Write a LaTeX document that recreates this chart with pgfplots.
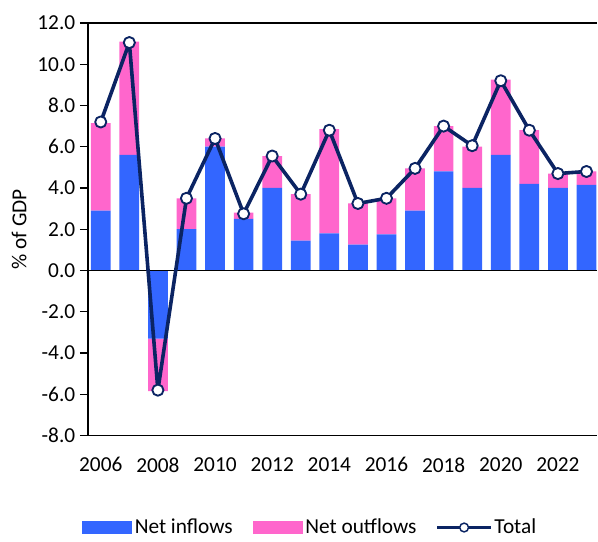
\documentclass[border=0pt]{standalone}
\usepackage{fontspec}
\setmainfont{Carlito}
\usepackage{pgfplots}
\pgfplotsset{compat=1.18}
\definecolor{inblue}{HTML}{3366FF}
\definecolor{outpink}{HTML}{FF66CC}
\definecolor{navy}{HTML}{0B2463}
\newcommand\cf{\fontsize{16}{19}\selectfont}

\pgfplotstableread{
year in out tot
2006 2.9 4.25 7.2
2007 5.6 5.5 11.05
2008 -3.3 -2.55 -5.8
2009 2.0 1.5 3.5
2010 6.0 0.4 6.4
2011 2.5 0.3 2.75
2012 4.0 1.55 5.55
2013 1.45 2.25 3.7
2014 1.8 5.05 6.8
2015 1.25 2.0 3.25
2016 1.75 1.75 3.5
2017 2.9 2.05 4.95
2018 4.8 2.2 7.0
2019 4.0 2.0 6.05
2020 5.6 3.65 9.2
2021 4.2 2.6 6.8
2022 4.0 0.7 4.7
2023 4.15 0.65 4.8
}\flows

\pgfplotsset{
  base/.style={
    width=382.5pt, height=309.75pt, scale only axis,
    xmin=2005.55, xmax=2023.38, ymin=-8, ymax=12,
  }
}

\begin{document}
\begin{tikzpicture}
\begin{axis}[
  base, name=ax,
  ybar stacked, bar width=0.69,
  axis lines*=left,
  axis line style={black, line width=1pt},
  ytick={-8,-6,...,12},
  yticklabel style={/pgf/number format/.cd, fixed, fixed zerofill, precision=1},
  ytick pos=left, tick align=outside,
  major tick length=6pt,
  ytick style={black, line width=1pt},
  xtick={2006,2008,...,2022},
  xticklabel style={/pgf/number format/1000 sep={}, yshift=-7pt},
  xtick style={draw=none},
  /pgf/number format/assume math mode=true,
  tick label style={font=\cf},
  ylabel={\% of GDP},
  every axis y label/.style={at={(axis description cs:-0.135,0.5)}, anchor=center, rotate=90, font=\cf},
  legend style={at={(axis description cs:0.437,-0.223)}, anchor=center, draw=none,
    legend columns=3, font=\cf,
    /tikz/every even column/.append style={column sep=13pt}},
  legend image code/.code={\fill[#1] (-4pt,-4.9pt) rectangle (33.5pt,4.9pt);},
]
\addplot[fill=inblue, draw=none] table[x=year, y=in] {\flows};
\addplot[fill=outpink, draw=none] table[x=year, y=out] {\flows};
\addlegendimage{legend image code/.code={
  \draw[navy, line width=1.6pt] (-4pt,0pt) -- (36pt,0pt);
  \draw[navy, fill=white, line width=1.1pt] (16pt,0pt) circle (3.3pt);}}
\legend{Net inflows, Net outflows, Total}
\end{axis}
\begin{axis}[base, hide axis, clip=false]
\draw[black, line width=1pt] (rel axis cs:0,0.4) -- (rel axis cs:1,0.4);
\draw[black, line width=1pt] (rel axis cs:0,1) -- (rel axis cs:1,1);
\addplot[navy, line width=2.7pt, line join=round, mark=*, mark size=4.2pt,
  mark options={fill=white, draw=navy, line width=1.4pt}]
  table[x=year, y=tot] {\flows};
\end{axis}
\path (ax.south west) ++(-66pt,-75.75pt);
\path (ax.north east) ++(0pt,17.25pt);
\end{tikzpicture}
\end{document}
